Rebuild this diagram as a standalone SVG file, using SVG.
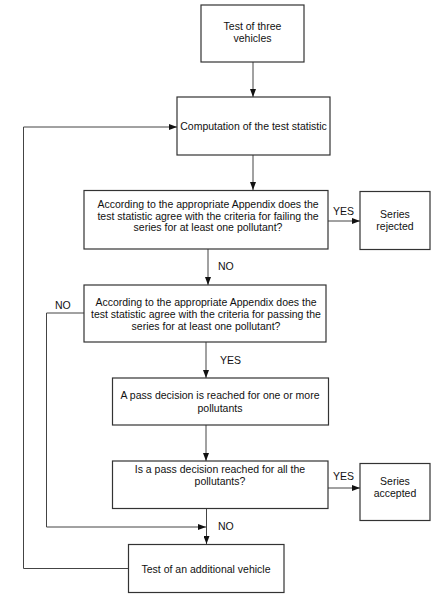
<svg xmlns="http://www.w3.org/2000/svg" width="447" height="602" viewBox="0 0 447 602">
<defs>
<marker id="ah" markerWidth="8" markerHeight="6" refX="8" refY="3" orient="auto" markerUnits="userSpaceOnUse">
<path d="M0,0 L8,3 L0,6 Z" fill="#111"/>
</marker>
</defs>
<style>
.box{fill:#fff;stroke:#333;stroke-width:1.2}
.t{font-family:"Liberation Sans",Arial,sans-serif;font-size:10.5px;fill:#111;text-anchor:middle}
.l{font-family:"Liberation Sans",Arial,sans-serif;font-size:10.5px;fill:#111}
.c{fill:none;stroke:#444;stroke-width:1}
.a{marker-end:url(#ah)}
</style>
<rect width="447" height="602" fill="#fff"/>
<g id="connectors">
<line class="c a" x1="253" y1="62" x2="253" y2="97"/>
<line class="c a" x1="253" y1="155" x2="253" y2="190"/>
<line class="c a" x1="328" y1="221" x2="360" y2="221"/>
<line class="c a" x1="208" y1="249" x2="208" y2="285"/>
<line class="c a" x1="206" y1="342" x2="206" y2="378"/>
<line class="c a" x1="206" y1="425" x2="206" y2="461"/>
<line class="c a" x1="328" y1="488" x2="360" y2="488"/>
<line class="c a" x1="206.5" y1="508" x2="206.5" y2="544"/>
<polyline class="c a" points="84,313 46.5,313 46.5,527 206,527"/>
<polyline class="c a" points="128,568.5 23.5,568.5 23.5,127 177,127"/>
<text class="l" x="333" y="215">YES</text>
<text class="l" x="218" y="270">NO</text>
<text class="l" x="55" y="309">NO</text>
<text class="l" x="220" y="364">YES</text>
<text class="l" x="333" y="480">YES</text>
<text class="l" x="218" y="530">NO</text>
</g>
<g id="n1">
<rect class="box" x="201" y="5" width="103" height="57"/>
<text class="t" x="252.5" y="30">Test of three</text>
<text class="t" x="252.5" y="42">vehicles</text>
</g>
<g id="n2">
<rect class="box" x="177" y="97" width="153" height="58"/>
<text class="t" x="253.5" y="130">Computation of the test statistic</text>
</g>
<g id="n3">
<rect class="box" x="84" y="190.5" width="244" height="58.5"/>
<text class="t" x="208" y="208">According to the appropriate Appendix does the</text>
<text class="t" x="208" y="219.5">test statistic agree with the criteria for failing the</text>
<text class="t" x="208" y="231">series for at least one pollutant?</text>
</g>
<g id="n4">
<rect class="box" x="360" y="191.5" width="70" height="58"/>
<text class="t" x="395" y="218">Series</text>
<text class="t" x="395" y="230">rejected</text>
</g>
<g id="n5">
<rect class="box" x="84" y="285" width="242" height="57"/>
<text class="t" x="206" y="305.5">According to the appropriate Appendix does the</text>
<text class="t" x="206" y="317.5">test statistic agree with the criteria for passing the</text>
<text class="t" x="206" y="329.5">series for at least one pollutant?</text>
</g>
<g id="n6">
<rect class="box" x="112.5" y="378" width="216" height="47"/>
<text class="t" x="220" y="399">A pass decision is reached for one or more</text>
<text class="t" x="220" y="412">pollutants</text>
</g>
<g id="n7">
<rect class="box" x="112.5" y="461" width="215.5" height="47.5"/>
<text class="t" x="220" y="473">Is a pass decision reached for all the</text>
<text class="t" x="220" y="485">pollutants?</text>
</g>
<g id="n8">
<rect class="box" x="360" y="463.5" width="70" height="57"/>
<text class="t" x="395" y="485">Series</text>
<text class="t" x="395" y="497">accepted</text>
</g>
<g id="n9">
<rect class="box" x="128.5" y="544.5" width="155.5" height="48"/>
<text class="t" x="206" y="573">Test of an additional vehicle</text>
</g>
</svg>
